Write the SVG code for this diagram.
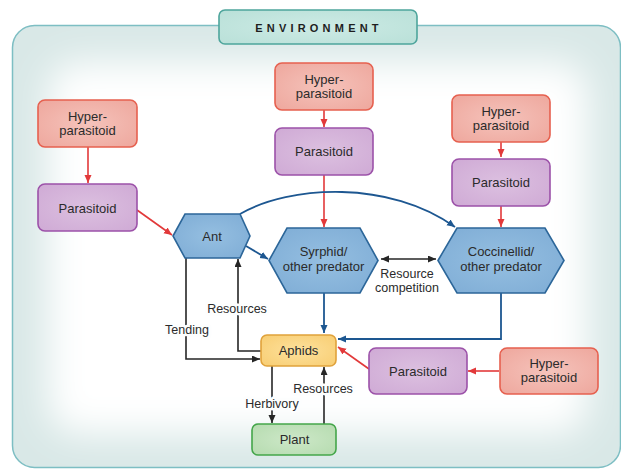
<svg xmlns="http://www.w3.org/2000/svg" width="621" height="472" viewBox="0 0 621 472">
<style>
text{font-family:"Liberation Sans",Arial,sans-serif;fill:#2b2b2b;text-anchor:middle}
.node{font-size:13px}
.lbl{font-size:12.5px;paint-order:stroke;stroke:#fdfefe;stroke-width:5px;stroke-linejoin:round}
.lbl2{font-size:12.5px}
.hyper{fill:url(#gHyper);stroke:#e6604f;stroke-width:1.6}
.para{fill:url(#gPara);stroke:#9c52a9;stroke-width:1.6}
.hex{fill:url(#gHex);stroke:#2c6699;stroke-width:1.6}
.red{stroke:#e2393a;stroke-width:1.6;fill:none;marker-end:url(#aRed)}
.blue{stroke:#1d5791;stroke-width:1.8;fill:none;marker-end:url(#aBlue)}
.blk{stroke:#262626;stroke-width:1.6;fill:none;marker-end:url(#aBlk)}
</style>
<defs>
<radialGradient id="gHyper" cx="50%" cy="50%" r="70%"><stop offset="0" stop-color="#f5c3bb"/><stop offset="1" stop-color="#eea79d"/></radialGradient>
<radialGradient id="gPara" cx="50%" cy="50%" r="70%"><stop offset="0" stop-color="#dcc0e0"/><stop offset="1" stop-color="#cfaad5"/></radialGradient>
<radialGradient id="gHex" cx="50%" cy="50%" r="70%"><stop offset="0" stop-color="#95bfe1"/><stop offset="1" stop-color="#7eacd5"/></radialGradient>
<radialGradient id="gAph" cx="50%" cy="50%" r="70%"><stop offset="0" stop-color="#fde19c"/><stop offset="1" stop-color="#f8cd72"/></radialGradient>
<radialGradient id="gPlant" cx="50%" cy="50%" r="70%"><stop offset="0" stop-color="#cde8c8"/><stop offset="1" stop-color="#b5dbaf"/></radialGradient>
<radialGradient id="gEnv" cx="50%" cy="50%" r="70%"><stop offset="0" stop-color="#cdebe5"/><stop offset="1" stop-color="#b9e0d8"/></radialGradient>
<filter id="blur" x="-20%" y="-20%" width="140%" height="140%"><feGaussianBlur stdDeviation="18"/></filter>
<clipPath id="envClip"><rect x="12.5" y="25.5" width="608" height="442" rx="22"/></clipPath>
<marker id="aRed" markerUnits="userSpaceOnUse" markerWidth="9" markerHeight="8" refX="8" refY="3.5" orient="auto"><path d="M0,0 L8,3.5 L0,7 z" fill="#e2393a"/></marker>
<marker id="aBlue" markerUnits="userSpaceOnUse" markerWidth="9" markerHeight="8" refX="8" refY="3.5" orient="auto"><path d="M0,0 L8,3.5 L0,7 z" fill="#1d5791"/></marker>
<marker id="aBlk" markerUnits="userSpaceOnUse" markerWidth="9" markerHeight="8" refX="8" refY="3.5" orient="auto-start-reverse"><path d="M0,0 L8,3.5 L0,7 z" fill="#262626"/></marker>
</defs>

<g id="environment">
<g clip-path="url(#envClip)">
<rect x="12.5" y="25.5" width="608" height="442" fill="#d9e8e7"/>
<rect x="48" y="62" width="540" height="372" rx="30" fill="#ffffff" filter="url(#blur)"/>
</g>
<rect x="12.5" y="25.5" width="608" height="442" rx="22" fill="none" stroke="#7dbec3" stroke-width="1.5"/>
<rect x="219" y="10" width="198" height="34" rx="6" fill="url(#gEnv)" stroke="#4ea59c" stroke-width="1.6"/>
<text x="319" y="31.5" style="font-size:11px;font-weight:bold;letter-spacing:4.2px;fill:#1e1e1e">ENVIRONMENT</text>
</g>

<g id="connectors">
<path class="red" d="M88,147 V183"/>
<path class="red" d="M137,210 L172,235"/>
<path class="red" d="M324,110 V127"/>
<path class="red" d="M324,175 V227"/>
<path class="red" d="M501,142 V157"/>
<path class="red" d="M501,206 V227"/>
<path class="red" d="M499,371 H468"/>
<path class="red" d="M369,369 L338,347"/>
<path class="blue" d="M246,246 L268,259"/>
<path class="blue" d="M240,214 C290,185 390,180 455,227"/>
<path class="blue" d="M324,293 V333"/>
<path class="blue" d="M501,293 V339 H338"/>
<path class="blk" d="M381,259 H436" style="marker-start:url(#aBlk)"/>
<path class="blk" d="M186,258 V359 H260"/>
<path class="blk" d="M261,351 H238 V259"/>
<path class="blk" d="M272,366 V423"/>
<path class="blk" d="M324,424 V367"/>
<text class="lbl" x="237" y="312.5">Resources</text>
<text class="lbl" x="187" y="333.5">Tending</text>
<text class="lbl" x="272" y="407.5">Herbivory</text>
<text class="lbl" x="323" y="392.5">Resources</text>
<text class="lbl2" x="407" y="277.5">Resource</text>
<text class="lbl2" x="407" y="291.5">competition</text>
</g>

<g id="hyper-left"><rect class="hyper" x="38" y="100" width="99" height="47" rx="7"/><text class="node" x="87.5" y="121">Hyper-</text><text class="node" x="87.5" y="135">parasitoid</text></g>
<g id="parasitoid-left"><rect class="para" x="38" y="184" width="99" height="47" rx="7"/><text class="node" x="87.5" y="212.5">Parasitoid</text></g>
<g id="hyper-mid"><rect class="hyper" x="275" y="63" width="98" height="47" rx="7"/><text class="node" x="324" y="84">Hyper-</text><text class="node" x="324" y="98">parasitoid</text></g>
<g id="parasitoid-mid"><rect class="para" x="275" y="128" width="98" height="47" rx="7"/><text class="node" x="324" y="156">Parasitoid</text></g>
<g id="hyper-right"><rect class="hyper" x="452" y="95" width="98" height="47" rx="7"/><text class="node" x="501" y="116">Hyper-</text><text class="node" x="501" y="130">parasitoid</text></g>
<g id="parasitoid-right"><rect class="para" x="452" y="159" width="98" height="47" rx="7"/><text class="node" x="501" y="187">Parasitoid</text></g>
<g id="ant"><polygon class="hex" points="173,236 185,214 240,214 250,236 240,258 185,258"/><text class="node" x="212" y="240.5">Ant</text></g>
<g id="syrphid"><polygon class="hex" points="269,260.5 287,228 360,228 378,260.5 360,293 287,293"/><text class="node" x="323.5" y="256">Syrphid/</text><text class="node" x="323.5" y="271">other predator</text></g>
<g id="coccinellid"><polygon class="hex" points="438,260.5 457,228 545,228 564,260.5 545,293 457,293"/><text class="node" x="501" y="256">Coccinellid/</text><text class="node" x="501" y="271">other predator</text></g>
<g id="aphids"><rect x="261" y="335" width="75" height="31" rx="6" fill="url(#gAph)" stroke="#e0a23b" stroke-width="1.6"/><text class="node" x="298.5" y="355">Aphids</text></g>
<g id="plant"><rect x="252" y="424" width="84" height="31" rx="6" fill="url(#gPlant)" stroke="#44a64a" stroke-width="1.6"/><text class="node" x="294.5" y="444">Plant</text></g>
<g id="parasitoid-bottom"><rect class="para" x="369" y="348" width="98" height="46" rx="7"/><text class="node" x="418" y="376">Parasitoid</text></g>
<g id="hyper-bottom"><rect class="hyper" x="500" y="348" width="98" height="46" rx="7"/><text class="node" x="549" y="368">Hyper-</text><text class="node" x="549" y="382">parasitoid</text></g>
</svg>
